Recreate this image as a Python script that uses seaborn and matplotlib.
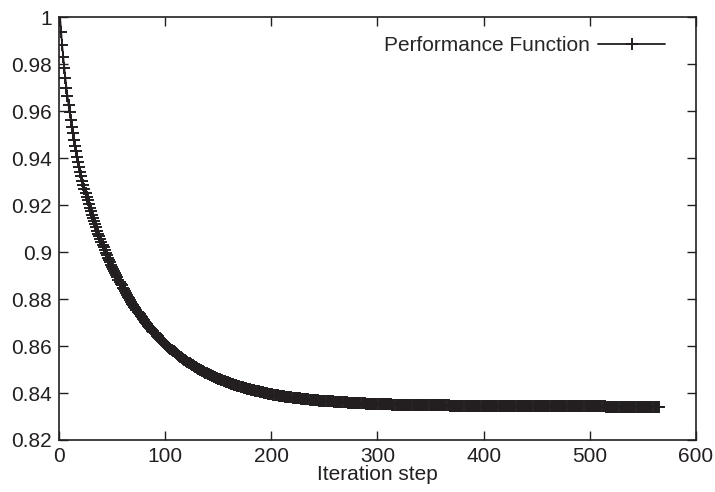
import matplotlib
matplotlib.use('Agg')
import matplotlib.pyplot as plt
import seaborn as sns
import numpy as np
import pandas as pd

# Performance function value at each iteration step
perf = [
    1.0000, 0.9938, 0.9881, 0.9830, 0.9783, 0.9740, 0.9700, 0.9663, 0.9628, 0.9595,
    0.9564, 0.9534, 0.9506, 0.9479, 0.9453, 0.9430, 0.9407, 0.9385, 0.9363, 0.9342,
    0.9323, 0.9305, 0.9287, 0.9269, 0.9252, 0.9236, 0.9220, 0.9204, 0.9189, 0.9174,
    0.9160, 0.9146, 0.9132, 0.9118, 0.9105, 0.9092, 0.9079, 0.9067, 0.9055, 0.9043,
    0.9031, 0.9020, 0.9009, 0.8998, 0.8987, 0.8977, 0.8967, 0.8957, 0.8947, 0.8938,
    0.8928, 0.8919, 0.8910, 0.8901, 0.8892, 0.8883, 0.8874, 0.8866, 0.8858, 0.8849,
    0.8841, 0.8833, 0.8826, 0.8818, 0.8810, 0.8803, 0.8796, 0.8788, 0.8781, 0.8774,
    0.8767, 0.8761, 0.8754, 0.8747, 0.8741, 0.8735, 0.8728, 0.8722, 0.8716, 0.8710,
    0.8704, 0.8699, 0.8693, 0.8687, 0.8682, 0.8676, 0.8671, 0.8666, 0.8661, 0.8656,
    0.8651, 0.8646, 0.8641, 0.8636, 0.8631, 0.8627, 0.8622, 0.8618, 0.8613, 0.8609,
    0.8605, 0.8601, 0.8597, 0.8592, 0.8588, 0.8585, 0.8581, 0.8577, 0.8573, 0.8569,
    0.8566, 0.8562, 0.8559, 0.8555, 0.8552, 0.8549, 0.8545, 0.8542, 0.8539, 0.8536,
    0.8533, 0.8530, 0.8527, 0.8524, 0.8521, 0.8518, 0.8515, 0.8512, 0.8510, 0.8507,
    0.8504, 0.8502, 0.8499, 0.8497, 0.8494, 0.8492, 0.8489, 0.8487, 0.8485, 0.8482,
    0.8480, 0.8478, 0.8476, 0.8474, 0.8471, 0.8469, 0.8467, 0.8465, 0.8463, 0.8461,
    0.8460, 0.8458, 0.8456, 0.8454, 0.8452, 0.8450, 0.8449, 0.8447, 0.8445, 0.8444,
    0.8442, 0.8440, 0.8439, 0.8437, 0.8436, 0.8434, 0.8433, 0.8431, 0.8430, 0.8428,
    0.8427, 0.8426, 0.8424, 0.8423, 0.8422, 0.8420, 0.8419, 0.8418, 0.8417, 0.8416,
    0.8414, 0.8413, 0.8412, 0.8411, 0.8410, 0.8409, 0.8408, 0.8407, 0.8406, 0.8405,
    0.8404, 0.8403, 0.8402, 0.8401, 0.8400, 0.8399, 0.8398, 0.8397, 0.8396, 0.8395,
    0.8394, 0.8393, 0.8393, 0.8392, 0.8391, 0.8390, 0.8389, 0.8389, 0.8388, 0.8387,
    0.8386, 0.8386, 0.8385, 0.8384, 0.8384, 0.8383, 0.8382, 0.8382, 0.8381, 0.8380,
    0.8380, 0.8379, 0.8379, 0.8378, 0.8378, 0.8377, 0.8377, 0.8376, 0.8375, 0.8375,
    0.8374, 0.8374, 0.8374, 0.8373, 0.8373, 0.8372, 0.8372, 0.8371, 0.8371, 0.8370,
    0.8370, 0.8370, 0.8369, 0.8369, 0.8368, 0.8368, 0.8368, 0.8367, 0.8367, 0.8366,
    0.8366, 0.8366, 0.8365, 0.8365, 0.8365, 0.8364, 0.8364, 0.8364, 0.8363, 0.8363,
    0.8363, 0.8362, 0.8362, 0.8362, 0.8361, 0.8361, 0.8361, 0.8361, 0.8360, 0.8360,
    0.8360, 0.8359, 0.8359, 0.8359, 0.8359, 0.8358, 0.8358, 0.8358, 0.8358, 0.8357,
    0.8357, 0.8357, 0.8357, 0.8357, 0.8356, 0.8356, 0.8356, 0.8356, 0.8355, 0.8355,
    0.8355, 0.8355, 0.8355, 0.8354, 0.8354, 0.8354, 0.8354, 0.8354, 0.8353, 0.8353,
    0.8353, 0.8353, 0.8353, 0.8353, 0.8353, 0.8352, 0.8352, 0.8352, 0.8352, 0.8352,
    0.8352, 0.8352, 0.8352, 0.8351, 0.8351, 0.8351, 0.8351, 0.8351, 0.8351, 0.8351,
    0.8351, 0.8350, 0.8350, 0.8350, 0.8350, 0.8350, 0.8350, 0.8350, 0.8350, 0.8350,
    0.8349, 0.8349, 0.8349, 0.8349, 0.8349, 0.8349, 0.8349, 0.8349, 0.8349, 0.8349,
    0.8349, 0.8348, 0.8348, 0.8348, 0.8348, 0.8348, 0.8348, 0.8348, 0.8348, 0.8348,
    0.8348, 0.8348, 0.8348, 0.8347, 0.8347, 0.8347, 0.8347, 0.8347, 0.8347, 0.8347,
    0.8347, 0.8347, 0.8347, 0.8347, 0.8347, 0.8347, 0.8347, 0.8346, 0.8346, 0.8346,
    0.8346, 0.8346, 0.8346, 0.8346, 0.8346, 0.8346, 0.8346, 0.8346, 0.8346, 0.8346,
    0.8346, 0.8346, 0.8346, 0.8345, 0.8345, 0.8345, 0.8345, 0.8345, 0.8345, 0.8345,
    0.8345, 0.8345, 0.8345, 0.8345, 0.8345, 0.8345, 0.8345, 0.8345, 0.8345, 0.8345,
    0.8345, 0.8345, 0.8345, 0.8345, 0.8345, 0.8345, 0.8345, 0.8344, 0.8344, 0.8344,
    0.8344, 0.8344, 0.8344, 0.8344, 0.8344, 0.8344, 0.8344, 0.8344, 0.8344, 0.8344,
    0.8344, 0.8344, 0.8344, 0.8344, 0.8344, 0.8344, 0.8344, 0.8344, 0.8344, 0.8344,
    0.8344, 0.8344, 0.8344, 0.8344, 0.8344, 0.8344, 0.8344, 0.8344, 0.8344, 0.8344,
    0.8344, 0.8344, 0.8344, 0.8344, 0.8344, 0.8344, 0.8344, 0.8344, 0.8344, 0.8343,
    0.8343, 0.8343, 0.8343, 0.8343, 0.8343, 0.8343, 0.8343, 0.8343, 0.8343, 0.8343,
    0.8343, 0.8343, 0.8343, 0.8343, 0.8343, 0.8343, 0.8343, 0.8343, 0.8343, 0.8343,
    0.8343, 0.8343, 0.8343, 0.8343, 0.8343, 0.8343, 0.8343, 0.8343, 0.8343, 0.8343,
    0.8343, 0.8343, 0.8343, 0.8343, 0.8343, 0.8343, 0.8343, 0.8343, 0.8343, 0.8343,
    0.8343, 0.8343, 0.8343, 0.8343, 0.8343, 0.8343, 0.8343, 0.8343, 0.8343, 0.8343,
    0.8343, 0.8343, 0.8343, 0.8343, 0.8343, 0.8343, 0.8343, 0.8343, 0.8343, 0.8343,
    0.8343, 0.8343, 0.8343, 0.8343, 0.8342, 0.8342, 0.8342, 0.8342, 0.8342, 0.8342,
    0.8342, 0.8342, 0.8342, 0.8342, 0.8342, 0.8342, 0.8342, 0.8342, 0.8342, 0.8342,
    0.8342, 0.8342, 0.8342, 0.8342, 0.8342, 0.8342, 0.8342, 0.8342, 0.8342, 0.8342,
    0.8342, 0.8342, 0.8342, 0.8342, 0.8342, 0.8342, 0.8342, 0.8342, 0.8342, 0.8342,
    0.8342, 0.8342, 0.8342, 0.8342, 0.8342, 0.8342, 0.8342, 0.8342, 0.8342, 0.8342,
    0.8342, 0.8342, 0.8342, 0.8342, 0.8342,
]
steps = np.arange(1, len(perf) + 1)

x_ticks = [0, 100, 200, 300, 400, 500, 600]
y_ticks = [0.82, 0.84, 0.86, 0.88, 0.90, 0.92, 0.94, 0.96, 0.98, 1.00]
y_tick_labels = ['0.82', '0.84', '0.86', '0.88', '0.9', '0.92', '0.94', '0.96', '0.98', '1']

sns.set_style('ticks')
plt.rcParams['font.family'] = ['Liberation Sans', 'DejaVu Sans']

ink = '#231f20'
fs = 15
df = pd.DataFrame({'step': steps, 'value': perf})

fig = plt.figure(figsize=(7.15, 4.92), dpi=100)
ax = fig.add_axes([0.0825, 0.1057, 0.8909, 0.8591])

sns.lineplot(data=df, x='step', y='value', ax=ax, color=ink, linewidth=1.3,
             marker='+', markersize=8, markeredgewidth=1.4, markeredgecolor=ink,
             label='Performance Function')

ax.set_xlim(0, 600)
ax.set_ylim(0.82, 1.0)
ax.set_xticks(x_ticks)
ax.set_xticklabels([str(t) for t in x_ticks])
ax.set_yticks(y_ticks)
ax.set_yticklabels(y_tick_labels)
ax.tick_params(direction='in', length=6.5, width=1.0, colors=ink, labelsize=fs,
               top=True, right=True, pad=5)
for s in ax.spines.values():
    s.set_color(ink)
    s.set_linewidth(1.2)

ax.set_xlabel('Iteration step', fontsize=fs, color=ink, labelpad=-1)
ax.set_ylabel('')

ax.legend(loc='upper right', frameon=False, markerfirst=False, fontsize=fs,
          handlelength=3.2, handletextpad=0.4, borderaxespad=0.5,
          bbox_to_anchor=(0.981, 1.0))

fig.savefig('out.png', dpi=100)
